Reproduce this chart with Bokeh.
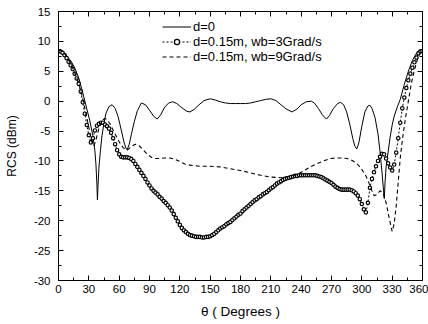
from bokeh.plotting import figure
from bokeh.models import (LinearAxis, FixedTicker, Range1d, Legend, LegendItem)
from bokeh.embed import file_html
from bokeh.resources import INLINE

# ---- data ----
theta_a = [0, 4, 8, 12, 16, 20, 24, 28, 31, 34, 36, 37, 38, 38.5, 39, 40, 41.5, 43, 45, 47,
           50, 53, 56, 59, 62, 65, 67, 68, 70, 72, 75, 78, 82, 86, 90, 94, 97.6, 101, 105, 109,
           113, 117, 122, 127, 130, 134, 139, 144, 150, 155, 160, 165, 170, 175, 180, 185, 190,
           195, 200, 205, 210, 215, 220, 225, 231, 236, 240, 245, 250, 253, 257, 261, 265, 268,
           272, 276, 279, 282, 285, 288, 291, 293, 295, 297, 300, 303, 306, 308, 310, 313, 316,
           318, 320, 321.5, 322.2, 323, 324, 326, 328, 330, 332, 335, 338, 342, 346, 350, 354,
           357, 360]
rcs_a = [8.7, 8.4, 7.6, 6.8, 5.6, 3.9, 1.4, -1.3, -3.3, -5.8, -8.3, -10.5, -14.0, -16.5, -14.5,
         -11.0, -8.2, -5.8, -3.6, -2.0, -0.9, -0.6, -1.2, -2.6, -4.8, -7.0, -8.0, -8.1, -7.2,
         -5.6, -3.4, -1.6, -0.3, -0.6, -1.5, -2.5, -3.0, -2.3, -1.0, -0.3, -0.1, -0.4, -1.1,
         -1.7, -1.8, -1.4, -0.6, 0.1, 0.4, 0.2, -0.1, -0.3, -0.4, -0.4, -0.4, -0.4, -0.3, -0.1,
         0.1, 0.3, 0.4, 0.1, -0.6, -1.3, -1.8, -1.3, -0.6, -0.1, 0.0, -0.3, -1.2, -2.3, -3.0,
         -2.4, -1.2, -0.4, -0.2, -0.6, -1.8, -3.8, -6.2, -7.5, -8.0, -7.0, -4.2, -1.8, -0.8,
         -0.7, -1.2, -2.7, -5.5, -8.5, -12.0, -15.0, -16.3, -13.5, -11.0, -8.5, -6.0, -4.0,
         -2.5, -1.0, 0.3, 2.8, 5.0, 6.8, 8.0, 8.6, 8.6]

theta_b = list(range(0, 361, 2))
rcs_b = [8.4, 8.3, 8.1, 7.7, 7.2, 6.6, 6.0, 5.4, 4.6, 3.8,
         2.9, 1.6, -0.2, -2.1, -4.0, -5.7, -6.9, -6.2, -4.9, -4.1,
         -3.8, -3.6, -3.6, -3.9, -4.2, -4.6, -5.3, -6.2, -7.2, -8.2,
         -8.9, -9.3, -9.4, -9.4, -9.4, -9.5, -9.7, -10.0, -10.5, -11.0,
         -11.5, -12.0, -12.5, -13.0, -13.6, -14.1, -14.6, -15.0, -15.3, -15.6,
         -16.0, -16.3, -16.7, -17.0, -17.4, -17.8, -18.3, -18.9, -19.5, -20.1,
         -20.7, -21.2, -21.6, -21.9, -22.2, -22.4, -22.5, -22.6, -22.7, -22.7,
         -22.7, -22.8, -22.8, -22.7, -22.7, -22.6, -22.4, -22.2, -21.9, -21.6,
         -21.3, -21.1, -20.9, -20.6, -20.4, -20.2, -19.9, -19.6, -19.3, -19.0,
         -18.8, -18.4, -18.1, -17.8, -17.5, -17.2, -16.9, -16.6, -16.4, -16.1,
         -15.9, -15.6, -15.4, -15.2, -14.9, -14.6, -14.4, -14.1, -13.8, -13.6,
         -13.4, -13.2, -13.0, -12.9, -12.8, -12.7, -12.6, -12.5, -12.5, -12.4,
         -12.4, -12.4, -12.4, -12.4, -12.4, -12.4, -12.4, -12.4, -12.5, -12.6,
         -12.7, -12.9, -13.1, -13.3, -13.5, -13.7, -14.0, -14.3, -14.5, -14.7,
         -14.8, -14.8, -14.8, -14.8, -14.8, -14.9, -15.1, -15.4, -15.8, -16.4,
         -17.2, -18.1, -18.6, -17.0, -14.5, -13.0, -11.9, -10.9, -10.0, -9.3,
         -8.8, -8.9, -9.6, -10.4, -11.1, -11.6, -10.6, -8.6, -6.2, -3.6,
         -1.2, 0.6, 2.2, 3.5, 4.6, 5.6, 6.5, 7.3, 8.0, 8.3,
         8.4]

theta_c = [0, 4, 8, 12, 16, 20, 24, 28, 31, 33, 35, 37, 40, 43, 46, 48, 51, 55, 60, 64, 68,
           72, 76, 80, 84, 88, 92, 96, 100, 105, 110, 115, 120, 125, 130, 140, 150, 160, 170,
           180, 190, 200, 210, 220, 229, 237, 243, 249, 255, 262, 269, 275, 280, 285.5, 290,
           295, 299, 303, 306, 309, 312, 315, 318, 321, 324, 327, 330, 332, 334, 336, 338, 340,
           343, 346, 349, 352, 355, 358, 360]
rcs_c = [8.6, 8.3, 7.5, 6.3, 4.8, 3.0, 0.4, -2.7, -5.3, -6.8, -7.5, -6.5, -4.5, -3.2, -2.9,
         -3.1, -3.8, -5.2, -6.8, -7.8, -8.2, -7.6, -7.2, -7.5, -8.2, -8.9, -9.4, -9.6, -9.6,
         -9.5, -9.5, -9.7, -10.1, -10.5, -10.7, -10.9, -10.9, -11.0, -11.3, -11.6, -12.0,
         -12.4, -12.7, -12.8, -12.6, -12.2, -11.6, -11.0, -10.5, -10.0, -9.6, -9.5, -9.5,
         -9.6, -9.9, -10.4, -11.2, -12.2, -13.2, -14.6, -15.8, -15.6, -15.0, -15.3, -17.0,
         -19.5, -21.8, -20.5, -17.5, -13.5, -9.5, -6.6, -3.0, 0.0, 3.0, 5.2, 7.0, 8.2, 8.5]

x_ticks = [0, 30, 60, 90, 120, 150, 180, 210, 240, 270, 300, 330, 360]
x_minor = [15, 45, 75, 105, 135, 165, 195, 225, 255, 285, 315, 345]
y_ticks = [-30, -25, -20, -15, -10, -5, 0, 5, 10, 15]
y_minor = [-27.5, -22.5, -17.5, -12.5, -7.5, -2.5, 2.5, 7.5, 12.5]

labels = ["d=0", "d=0.15m, wb=3Grad/s", "d=0.15m, wb=9Grad/s"]

FONT = "Liberation Sans"

p = figure(width=428, height=324, output_backend="svg", toolbar_location=None,
           x_range=Range1d(0, 360), y_range=Range1d(-30, 15),
           min_border_left=58, min_border_right=6, min_border_top=11, min_border_bottom=44)
p.background_fill_color = "white"
p.border_fill_color = "white"
p.outline_line_color = "black"
p.outline_line_width = 1
p.xgrid.visible = False
p.ygrid.visible = False

r_a = p.line(theta_a, rcs_a, line_color="black", line_width=1)
r_bl = p.line(theta_b, rcs_b, line_color="black", line_width=1, line_dash="2 2")
r_bs = p.scatter(theta_b, rcs_b, marker="circle", size=3.4, line_color="black",
                 line_width=1.2, fill_color="white")
r_c = p.line(theta_c, rcs_c, line_color="black", line_width=1.1, line_dash="4 3")


def style_axis(ax, show_labels):
    ax.axis_line_color = "black"
    ax.major_tick_in = 5
    ax.major_tick_out = 0
    ax.minor_tick_in = 3
    ax.minor_tick_out = 0
    ax.major_tick_line_color = "black"
    ax.minor_tick_line_color = "black"
    ax.major_label_text_font = FONT
    ax.major_label_text_font_size = "11.5px"
    ax.major_label_text_color = "black"
    if not show_labels:
        ax.major_label_text_alpha = 0
        ax.major_label_text_font_size = "1px"
        ax.major_label_standoff = 0


xt = FixedTicker(ticks=x_ticks, minor_ticks=x_minor)
yt = FixedTicker(ticks=y_ticks, minor_ticks=y_minor)

xa = p.xaxis[0]
xa.ticker = xt
style_axis(xa, True)
xa.major_label_standoff = 4
xa.axis_label = "\u03b8 ( Degrees )"
xa.axis_label_text_font = FONT
xa.axis_label_text_font_size = "13.5px"
xa.axis_label_text_font_style = "normal"
xa.axis_label_text_color = "black"
xa.axis_label_standoff = 8

ya = p.yaxis[0]
ya.ticker = yt
style_axis(ya, True)
ya.major_label_overrides = {v: str(v) for v in y_ticks}
ya.major_label_standoff = 8
ya.axis_label = "RCS (dBm)"
ya.axis_label_text_font = FONT
ya.axis_label_text_font_size = "12px"
ya.axis_label_text_font_style = "normal"
ya.axis_label_text_color = "black"
ya.axis_label_standoff = 12

top = LinearAxis(ticker=FixedTicker(ticks=x_ticks, minor_ticks=x_minor))
style_axis(top, False)
p.add_layout(top, "above")
right = LinearAxis(ticker=FixedTicker(ticks=y_ticks, minor_ticks=y_minor))
style_axis(right, False)
p.add_layout(right, "right")

legend = Legend(items=[LegendItem(label=labels[0], renderers=[r_a]),
                       LegendItem(label=labels[1], renderers=[r_bl, r_bs]),
                       LegendItem(label=labels[2], renderers=[r_c])],
                location=(104, 216), orientation="vertical")
legend.border_line_color = None
legend.background_fill_alpha = 0
legend.padding = 0
legend.margin = 0
legend.spacing = 0
legend.label_height = 13
legend.glyph_height = 13
legend.glyph_width = 29
legend.label_standoff = 2
legend.label_text_font = FONT
legend.label_text_font_size = "13px"
legend.label_text_color = "black"
p.add_layout(legend, "center")

open("out.html", "w").write(file_html(p, INLINE))
